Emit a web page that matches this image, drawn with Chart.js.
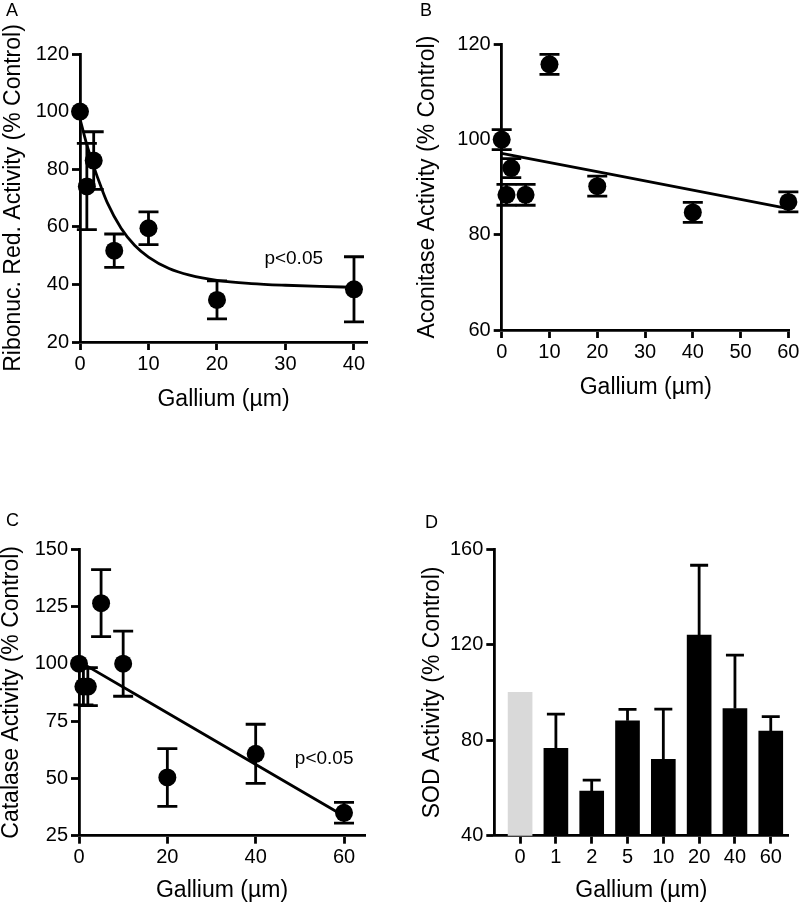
<!DOCTYPE html>
<html>
<head>
<meta charset="utf-8">
<script src="https://cdn.jsdelivr.net/npm/chart.js@4.4.0/dist/chart.umd.min.js"></script>
<style>
  body { margin: 0; background: #fff; }
  #wrap { position: relative; width: 800px; height: 904px; overflow: hidden; font-family: "Liberation Sans", Arial, sans-serif; }
  .panel { position: absolute; }
  .tag { position: absolute; font-size: 18px; line-height: 1; color: #000; }
</style>
</head>
<body>
<div id="wrap">
  <div class="panel" style="left:0;top:0"><canvas id="chartA" width="400" height="420"></canvas></div>
  <div class="panel" style="left:400px;top:0"><canvas id="chartB" width="400" height="420"></canvas></div>
  <div class="panel" style="left:0;top:440px"><canvas id="chartC" width="400" height="464"></canvas></div>
  <div class="panel" style="left:400px;top:440px"><canvas id="chartD" width="400" height="464"></canvas></div>
  <div class="tag" style="left:6px;top:1px">A</div>
  <div class="tag" style="left:420px;top:1px">B</div>
  <div class="tag" style="left:6px;top:511px">C</div>
  <div class="tag" style="left:425px;top:513px">D</div>
</div>

<script>
// === Data panel A (ribonucleotide reductase) ===
const galliumA = [0, 1, 2, 5, 10, 20, 40];
const ribonucA = [100, 74, 83, 51.7, 59.5, 34.6, 38.3];
const ribonucErrA = [0, 15, 10, 5.8, 5.7, 6.6, 11.3];
const fitXA = [0, 1, 2, 3, 4, 6, 8, 10, 13, 16, 20, 25, 30, 35, 40];
const fitYA = [97.5, 88.5, 81, 74.3, 68.3, 59.5, 53.5, 49.5, 45.5, 43.2, 41.4, 40.3, 39.7, 39.3, 39.0];
const xTicksA = [0, 10, 20, 30, 40];
const yTicksA = [20, 40, 60, 80, 100, 120];

// === Data panel B (aconitase) ===
const galliumB = [0, 1, 2, 5, 10, 20, 40, 60];
const aconitaseB = [100, 88.4, 94, 88.4, 115.8, 90.2, 84.7, 86.9];
const aconitaseErrB = [2.1, 2.2, 2, 2.2, 2.1, 2.1, 2.1, 2.1];
const fitXB = [0, 60];
const fitYB = [97.1, 85.5];
const xTicksB = [0, 10, 20, 30, 40, 50, 60];
const yTicksB = [60, 80, 100, 120];

// === Data panel C (catalase) ===
const galliumC = [0, 1, 2, 5, 10, 20, 40, 60];
const catalaseC = [100, 90, 90, 126.4, 100, 50.4, 60.7, 35];
const catalaseErrC = [0, 8, 8.3, 14.6, 14.2, 12.6, 12.9, 4.5];
const fitXC = [0, 60];
const fitYC = [101, 33.6];
const xTicksC = [0, 20, 40, 60];
const yTicksC = [25, 50, 75, 100, 125, 150];

// === Data panel D (SOD) ===
const doseD = ['0', '1', '2', '5', '10', '20', '40', '60'];
const sodD = [100, 76.6, 58.7, 88.1, 72, 124, 93.2, 83.8];
const sodErrD = [0, 14.3, 4.6, 4.8, 21, 29.2, 22.4, 6];
const yTicksD = [40, 80, 120, 160];

const FONT = '"Liberation Sans", Arial, sans-serif';
const LINE_W = 2.8;
Chart.defaults.font.family = FONT;
Chart.defaults.color = '#000';
Chart.defaults.animation = false;

// === Error bars (drawn from the y scale) ===
const errorBarPlugin = {
  id: 'errorBars',
  afterDatasetsDraw(chart) {
    const ctx = chart.ctx;
    const yScale = chart.scales.y;
    chart.data.datasets.forEach((ds, i) => {
      if (!ds.errors) return;
      const meta = chart.getDatasetMeta(i);
      ctx.save();
      ctx.strokeStyle = '#000';
      ctx.lineWidth = LINE_W;
      meta.data.forEach((el, j) => {
        const err = ds.errors[j];
        if (!err) return;
        const v = ds.data[j].y;
        const top = yScale.getPixelForValue(v + err);
        const bottom = ds.upOnly ? el.y : yScale.getPixelForValue(v - err);
        const cap = ds.capHalf;
        ctx.beginPath();
        ctx.moveTo(el.x, top);
        ctx.lineTo(el.x, bottom);
        ctx.moveTo(el.x - cap, top);
        ctx.lineTo(el.x + cap, top);
        if (!ds.upOnly) {
          ctx.moveTo(el.x - cap, bottom);
          ctx.lineTo(el.x + cap, bottom);
        }
        ctx.stroke();
      });
      ctx.restore();
    });
  }
};

// === p-value note placed in data coordinates ===
const noteTextPlugin = {
  id: 'noteText',
  afterDraw(chart, args, opts) {
    if (!opts || !opts.text) return;
    const { ctx, scales: { x, y } } = chart;
    ctx.save();
    ctx.font = '19px ' + FONT;
    ctx.fillStyle = '#000';
    ctx.textAlign = 'center';
    ctx.textBaseline = 'middle';
    ctx.fillText(opts.text, x.getPixelForValue(opts.x), y.getPixelForValue(opts.y));
    ctx.restore();
  }
};

function toPoints(xs, ys) {
  return xs.map((x, i) => ({ x, y: ys[i] }));
}

function axisCommon() {
  return {
    border: { display: true, color: '#000', width: LINE_W },
    grid: { display: true, drawOnChartArea: false, drawTicks: true, tickLength: 8, tickWidth: LINE_W, tickColor: '#000', offset: false },
    ticks: { color: '#000', font: { size: 20 }, maxRotation: 0, autoSkip: false }
  };
}

function buildScales(p) {
  const x = axisCommon();
  const y = axisCommon();
  Object.assign(x, {
    type: 'linear', min: p.xMin, max: p.xMax, offset: false,
    afterBuildTicks: (ax) => { ax.ticks = p.xTicks.map(v => ({ value: v })); },
    afterFit: (ax) => { ax.height = p.xHeight; ax.paddingLeft = 0; ax.paddingRight = 0; },
    title: { display: true, text: 'Gallium (µm)', color: '#000', font: { size: 23, lineHeight: 1 }, padding: { top: 0, bottom: p.xTitlePad } }
  });
  x.ticks.padding = 2;
  if (p.xLabel) x.ticks.callback = p.xLabel;
  Object.assign(y, {
    min: p.yMin, max: p.yMax,
    afterBuildTicks: (ax) => { ax.ticks = p.yTicks.map(v => ({ value: v })); },
    afterFit: (ax) => { ax.width = p.yWidth; },
    title: { display: true, text: p.yTitle, color: '#000', font: { size: 23, lineHeight: 1 }, padding: { top: p.yTitlePad, bottom: 0 } }
  });
  y.ticks.padding = 3;
  return { x, y };
}

function scatterChart(id, p) {
  const datasets = [
    {
      type: 'scatter',
      data: toPoints(p.xs, p.ys),
      errors: p.errs,
      capHalf: 10,
      pointRadius: 9,
      pointBackgroundColor: '#000',
      pointBorderWidth: 0,
      clip: false
    },
    {
      type: 'line',
      data: toPoints(p.fitX, p.fitY),
      borderColor: '#000',
      borderWidth: LINE_W,
      pointRadius: 0,
      fill: false,
      cubicInterpolationMode: 'monotone',
      clip: false
    }
  ];
  return new Chart(document.getElementById(id), {
    type: 'scatter',
    data: { datasets },
    options: {
      responsive: false,
      layout: { padding: { left: 0, top: p.top, right: p.right, bottom: 0 } },
      scales: buildScales(p),
      plugins: {
        legend: { display: false },
        tooltip: { enabled: false },
        noteText: p.note || {}
      }
    },
    plugins: [errorBarPlugin, noteTextPlugin]
  });
}

scatterChart('chartA', {
  xs: galliumA, ys: ribonucA, errs: ribonucErrA, fitX: fitXA, fitY: fitYA,
  xMin: 0, xMax: 41.9, yMin: 20, yMax: 120, xTicks: xTicksA, yTicks: yTicksA,
  top: 54, right: 33, yWidth: 80, xHeight: 78, xTitlePad: 8.5, yTitlePad: 2.5,
  yTitle: 'Ribonuc. Red. Activity (% Control)',
  note: { text: 'p<0.05', x: 31.2, y: 48.8 }
});

scatterChart('chartB', {
  xs: galliumB, ys: aconitaseB, errs: aconitaseErrB, fitX: fitXB, fitY: fitYB,
  xMin: 0, xMax: 60.3, yMin: 60, yMax: 120, xTicks: xTicksB, yTicks: yTicksB,
  top: 44.3, right: 10.2, yWidth: 101.7, xHeight: 90, xTitlePad: 21, yTitlePad: 16,
  yTitle: 'Aconitase Activity (% Control)'
});

scatterChart('chartC', {
  xs: galliumC, ys: catalaseC, errs: catalaseErrC, fitX: fitXC, fitY: fitYC,
  xMin: 0, xMax: 64.75, yMin: 25, yMax: 150, xTicks: xTicksC, yTicks: yTicksC,
  top: 109, right: 35, yWidth: 79, xHeight: 68.3, xTitlePad: 1.8, yTitlePad: 0,
  yTitle: 'Catalase Activity (% Control)',
  note: { text: 'p<0.05', x: 55.5, y: 58.4 }
});

// === Panel D: bars on an index axis ===
const scalesD = buildScales({
  xMin: -0.72, xMax: 7.49, yMin: 40, yMax: 160,
  xTicks: doseD.map((d, i) => i), yTicks: yTicksD,
  yWidth: 94.3, xHeight: 68.3, xTitlePad: 1.8, yTitlePad: 21.5,
  yTitle: 'SOD Activity (% Control)',
  xLabel: (v) => doseD[v]
});

new Chart(document.getElementById('chartD'), {
  type: 'bar',
  data: {
    datasets: [{
      data: sodD.map((v, i) => ({ x: i, y: v })),
      errors: sodErrD,
      upOnly: true,
      capHalf: 9,
      backgroundColor: sodD.map((v, i) => i === 0 ? '#d9d9d9' : '#000'),
      borderWidth: 0,
      barThickness: 24
    }]
  },
  options: {
    responsive: false,
    layout: { padding: { left: 0, top: 109, right: 11.7, bottom: 0 } },
    scales: scalesD,
    plugins: {
      legend: { display: false },
      tooltip: { enabled: false }
    }
  },
  plugins: [errorBarPlugin]
});
</script>
</body>
</html>
